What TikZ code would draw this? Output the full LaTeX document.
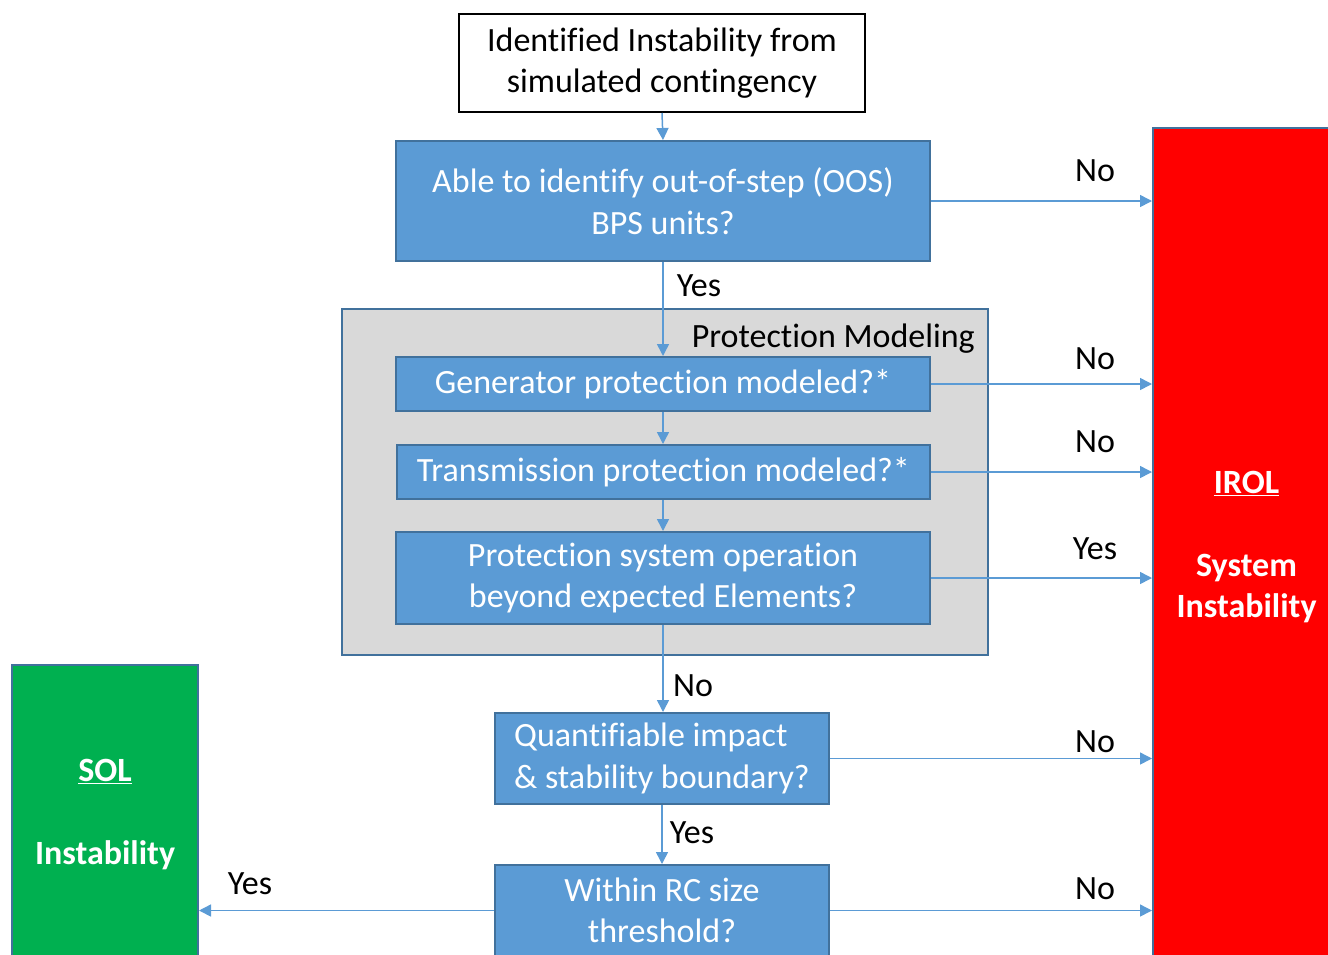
\documentclass[tikz,border=0pt]{standalone}
\usepackage{fontspec}
\setmainfont{Carlito}[Ligatures=NoCommon]
\usetikzlibrary{arrows.meta}
\definecolor{boxblue}{HTML}{5B9BD5}
\definecolor{edgeblue}{HTML}{41719C}
\definecolor{arrowblue}{HTML}{5B9BD5}
\definecolor{panelgray}{HTML}{D9D9D9}
\definecolor{solgreen}{HTML}{00B050}
\definecolor{irolred}{HTML}{FF0000}
\begin{document}
\begin{tikzpicture}[x=1pt,y=-1pt,
 every node/.style={font=\fontsize{34}{41.5}\selectfont, inner sep=0pt},
 qbox/.style={draw=edgeblue, fill=boxblue, line width=2pt, text=white, align=center},
 flow/.style={draw=arrowblue, line width=1.5pt, -{Triangle[length=12pt,width=12pt]}},
 lbl/.style={text=black},
 bigbox/.style={draw=edgeblue, line width=2pt, text=white, align=center, font=\fontsize{34}{41.5}\selectfont\bfseries}
]
\useasboundingbox (0,0) rectangle (1328,954);
\clip (0,0) rectangle (1328,954);

% panel
\node[draw=edgeblue, fill=panelgray, line width=2pt, minimum width=646pt, minimum height=346pt] (panel) at (665,482) {};
\node[lbl, anchor=east] (pmlabel) at (975,339) {Protection Modeling};

% top box
\node[draw=black, fill=white, line width=2pt, align=center, minimum width=406pt, minimum height=98pt] (start) at (662,63) {Identified Instability from\\simulated contingency};

\node[qbox, minimum width=534pt, minimum height=120pt] (able) at (663,201) {Able to identify out-of-step (OOS)\\BPS units?};
\node[qbox, minimum width=534pt, minimum height=54pt] (gen) at (663,384) {Generator protection modeled?*};
\node[qbox, minimum width=533pt, minimum height=54pt] (trans) at (663.5,472) {Transmission protection modeled?*};
\node[qbox, minimum width=534pt, minimum height=92pt] (prot) at (663,578) {Protection system operation\\beyond expected Elements?};
\node[qbox, align=left, minimum width=334pt, minimum height=91pt] (quant) at (662,758.5) {Quantifiable impact\\\& stability boundary?};
\node[qbox, minimum width=334pt, minimum height=91pt] (within) at (662,910.5) {Within RC size\\threshold?};

% outcome boxes
\node[bigbox, fill=irolred, minimum width=187pt, minimum height=838pt] (irol) at (1246.5,547) {\underline{IROL}\\[41.5pt]System\\Instability};
\node[bigbox, fill=solgreen, minimum width=186pt, minimum height=300pt] (sol) at (105,815) {\underline{SOL}\\[41.5pt]Instability};

% arrows
\draw[flow] (start.south) -- (able.north);
\draw[flow] (able.south) -- (gen.north);
\draw[flow] (gen.south) -- (trans.north -| gen.south);
\draw[flow] (trans.south -| gen.south) -- (prot.north);
\draw[flow] (prot.south) -- (quant.north -| prot.south);
\draw[flow] (quant.south) -- (within.north);

\draw[flow] (able.east) -- (able.east -| irol.west);
\draw[flow] (gen.east) -- (gen.east -| irol.west);
\draw[flow] (trans.east) -- (trans.east -| irol.west);
\draw[flow] (prot.east) -- (prot.east -| irol.west);
\draw[flow] (quant.east) -- (quant.east -| irol.west);
\draw[flow] (within.east) -- (within.east -| irol.west);
\draw[flow] (within.west) -- (within.west -| sol.east);

% labels
\node[lbl] (l1) at (1095,171) {No};
\node[lbl] (l2) at (699,286) {Yes};
\node[lbl] (l3) at (1095,359) {No};
\node[lbl] (l4) at (1095,442) {No};
\node[lbl] (l5) at (1095,549) {Yes};
\node[lbl] (l6) at (693,686) {No};
\node[lbl] (l7) at (1095,742) {No};
\node[lbl] (l8) at (692,833) {Yes};
\node[lbl] (l9) at (250,884) {Yes};
\node[lbl] (l10) at (1095,889) {No};
\end{tikzpicture}
\end{document}
